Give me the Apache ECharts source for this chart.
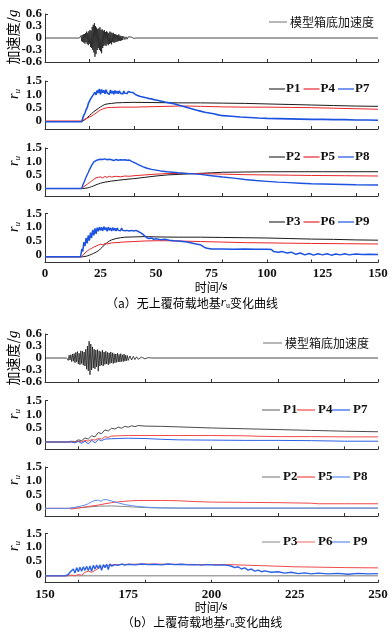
<!DOCTYPE html>
<html><head><meta charset="utf-8">
<script src="https://cdn.jsdelivr.net/npm/echarts@6/dist/echarts.min.js"></script>
<style>html,body{margin:0;padding:0;background:#fff}#c{width:392px;height:636px}</style>
</head><body><div id="c"></div>
<script>
// ---- tick / label values ----
const xTicksA = [20,40,60,80,100,120,140,150];
const xLabelsA = [0,25,50,75,100,125,150];
const xTicksB = [160,180,200,220,240,250];
const xLabelsB = [150,175,200,225,250];
const ruLabels = [0,0.5,1,1.5];
const accLabelsMain = [-0.6,0,0.6];
const accLabelsMid = [-0.3,0.3];

// ---- (a) base acceleration [t, g] ----
const accA = [[0,0],[15.5,0],[15.75,0.04],[16,-0.05],[16.25,0.06],[16.5,-0.08],[16.75,0.07],[17,-0.1],[17.25,0.09],[17.5,-0.12],[17.75,0.1],[18,-0.14],[18.25,0.12],[18.5,-0.1],[18.75,0.16],[19,-0.15],[19.25,0.13],[19.5,-0.18],[19.75,0.17],[20,-0.14],[20.25,0.2],[20.5,-0.22],[20.75,0.18],[21,-0.25],[21.25,0.28],[21.5,-0.3],[21.75,0.33],[22,-0.36],[22.25,0.37],[22.5,-0.47],[22.75,0.3],[23,-0.4],[23.25,0.26],[23.5,-0.3],[23.75,0.22],[24,-0.25],[24.25,0.24],[24.5,-0.3],[24.75,0.27],[25,-0.33],[25.25,0.2],[25.5,-0.38],[25.75,0.22],[26,-0.25],[26.25,0.18],[26.5,-0.2],[26.75,0.2],[27,-0.17],[27.25,0.15],[27.5,-0.2],[27.75,0.17],[28,-0.15],[28.25,0.14],[28.5,-0.18],[28.75,0.12],[29,-0.15],[29.25,0.16],[29.5,-0.13],[29.75,0.14],[30,-0.16],[30.25,0.12],[30.5,-0.1],[30.75,0.13],[31,-0.12],[31.25,0.1],[31.5,-0.11],[31.75,0.09],[32,-0.1],[32.25,0.08],[32.5,-0.09],[32.75,0.07],[33,-0.08],[33.25,0.09],[33.5,-0.07],[33.75,0.06],[34,-0.07],[34.25,0.05],[34.5,-0.06],[34.75,0.05],[35,-0.05],[35.5,0.04],[36,-0.04],[36.5,0.03],[37,-0.03],[37.5,0.03],[38,-0.02],[39,0.02],[40,-0.01],[41,0],[150,0]];

// ---- (a) r_u series [t, ru] ----
const aP1 = [[0,-0.02],[16.5,-0.02],[18,0.05],[19,0.12],[20,0.2],[21,0.28],[22,0.35],[23,0.41],[24,0.47],[25,0.53],[26,0.58],[27,0.62],[28,0.64],[30,0.66],[32,0.68],[35,0.69],[40,0.7],[50,0.69],[60,0.68],[70,0.68],[80,0.67],[90,0.66],[100,0.64],[110,0.62],[120,0.6],[130,0.58],[140,0.56],[150,0.55]];
const aP4 = [[0,0],[16.5,0],[17,0.03],[18,0.07],[19,0.1],[20,0.15],[21,0.19],[22,0.24],[23,0.3],[24,0.36],[25,0.41],[26,0.45],[27,0.48],[28,0.5],[30,0.51],[35,0.52],[40,0.52],[50,0.54],[60,0.56],[65,0.56],[70,0.55],[80,0.53],[90,0.52],[100,0.52],[110,0.51],[120,0.5],[130,0.48],[140,0.46],[150,0.44]];
const aP7 = [[0,-0.03],[16.5,-0.03],[17,0.1],[17.5,0.22],[18,0.3],[18.5,0.42],[19,0.5],[19.5,0.65],[20,0.7],[20.5,0.82],[21,0.78],[21.5,0.95],[22,0.9],[22.5,1.08],[23,0.98],[23.5,1.15],[24,1.05],[24.5,1.2],[25,1.0],[25.5,1.18],[26,1.06],[26.5,1.15],[27,1.02],[27.5,1.17],[28,1.05],[28.5,1.12],[29,1.0],[29.5,1.16],[30,1.04],[30.5,1.12],[31,1.0],[31.5,1.14],[32,1.03],[32.5,1.12],[33,1.02],[33.5,1.13],[34,1.04],[34.5,1.1],[35,1.01],[35.5,1.12],[36,1.04],[36.5,1.1],[37,1.03],[37.5,1.11],[38,1.05],[38.5,1.08],[39,1.02],[39.5,1.07],[40,1.0],[41,0.98],[42,0.95],[43,0.92],[44,0.9],[45,0.88],[46,0.86],[47,0.84],[48,0.83],[49,0.8],[50,0.79],[52,0.75],[54,0.71],[56,0.68],[58,0.65],[60,0.6],[62,0.55],[64,0.51],[66,0.46],[68,0.41],[70,0.37],[72,0.33],[74,0.3],[76,0.27],[78,0.23],[80,0.2],[84,0.18],[88,0.15],[92,0.13],[96,0.11],[100,0.1],[105,0.09],[110,0.08],[115,0.07],[120,0.06],[125,0.06],[130,0.05],[135,0.05],[140,0.04],[145,0.04],[150,0.03]];
const aP2 = [[0,-0.02],[17,-0.02],[18,-0.01],[19,0],[20,0.02],[21,0.05],[22,0.08],[23,0.12],[24,0.15],[25,0.18],[27,0.22],[30,0.26],[33,0.29],[36,0.32],[40,0.35],[45,0.4],[50,0.45],[55,0.49],[60,0.51],[65,0.53],[70,0.55],[75,0.57],[80,0.59],[90,0.6],[100,0.61],[125,0.61],[150,0.61]];
const aP5 = [[0,-0.02],[16.5,-0.02],[17,0.02],[18,0.08],[19,0.14],[20,0.2],[21,0.26],[22,0.33],[23,0.38],[24,0.4],[25,0.42],[26,0.38],[27,0.43],[28,0.4],[29,0.44],[30,0.41],[32,0.44],[34,0.42],[36,0.45],[38,0.44],[40,0.46],[45,0.49],[50,0.52],[55,0.54],[60,0.55],[70,0.54],[80,0.52],[90,0.5],[100,0.49],[110,0.48],[120,0.47],[135,0.46],[150,0.45]];
const aP8 = [[0,-0.02],[16.5,-0.02],[17,0.1],[17.5,0.2],[18,0.3],[18.5,0.4],[19,0.5],[19.5,0.58],[20,0.68],[20.5,0.75],[21,0.85],[21.5,0.9],[22,0.98],[22.5,0.95],[23,1.03],[23.5,0.98],[24,1.06],[24.5,1.0],[25,1.08],[25.5,1.02],[26,1.07],[26.5,1.01],[27,1.09],[27.5,1.03],[28,1.06],[28.5,1.02],[29,1.08],[29.5,1.03],[30,1.06],[31,1.03],[32,1.07],[33,1.04],[34,1.06],[35,1.05],[36,1.06],[37,1.04],[38,1.05],[39,1.0],[40,0.96],[41,0.92],[42,0.88],[43,0.84],[44,0.8],[45,0.77],[46,0.74],[48,0.7],[50,0.67],[52,0.64],[55,0.61],[60,0.57],[65,0.54],[70,0.51],[75,0.46],[80,0.41],[85,0.37],[90,0.32],[95,0.28],[100,0.25],[105,0.22],[110,0.2],[115,0.18],[120,0.16],[130,0.14],[140,0.12],[150,0.11]];
const aP3 = [[0,-0.09],[17,-0.09],[18,-0.08],[19,-0.06],[20,-0.03],[21,0],[22,0.04],[23,0.08],[24,0.13],[25,0.2],[26,0.28],[27,0.36],[28,0.43],[29,0.49],[30,0.53],[32,0.58],[34,0.61],[36,0.63],[40,0.64],[45,0.65],[50,0.64],[60,0.63],[70,0.63],[80,0.62],[90,0.61],[100,0.6],[110,0.58],[120,0.56],[130,0.55],[140,0.53],[150,0.52]];
const aP6 = [[0,-0.09],[16.5,-0.09],[17,-0.03],[18,0.05],[19,0.12],[20,0.18],[21,0.22],[22,0.27],[23,0.3],[24,0.34],[25,0.37],[26,0.35],[27,0.4],[28,0.38],[30,0.42],[32,0.43],[35,0.45],[40,0.47],[45,0.49],[50,0.5],[55,0.5],[60,0.49],[70,0.47],[80,0.45],[90,0.43],[100,0.42],[110,0.41],[120,0.4],[135,0.39],[150,0.38]];
const aP9 = [[0,-0.09],[16,-0.09],[16.3,-0.15],[16.6,0.2],[17,0.1],[17.5,0.45],[18,0.3],[18.5,0.6],[19,0.4],[19.5,0.7],[20,0.5],[20.5,0.8],[21,0.6],[21.5,0.9],[22,0.7],[22.5,0.95],[23,0.75],[23.5,0.98],[24,0.85],[24.5,1.0],[25,0.88],[25.5,0.99],[26,0.86],[26.5,1.02],[27,0.9],[27.5,0.98],[28,0.85],[28.5,1.0],[29,0.88],[29.5,0.97],[30,0.86],[30.5,0.98],[31,0.88],[31.5,0.96],[32,0.86],[32.5,0.97],[33,0.88],[33.5,0.95],[34,0.87],[34.5,0.96],[35,0.88],[35.5,0.95],[36,0.87],[36.5,0.94],[37,0.88],[37.5,0.93],[38,0.86],[38.5,0.92],[39,0.88],[39.5,0.91],[40,0.86],[41,0.88],[42,0.84],[43,0.8],[44,0.74],[45,0.67],[46,0.6],[47,0.58],[48,0.6],[49,0.55],[50,0.57],[52,0.54],[54,0.55],[56,0.52],[58,0.5],[60,0.49],[62,0.47],[64,0.45],[66,0.42],[68,0.38],[70,0.35],[71,0.3],[72,0.25],[73,0.22],[75,0.2],[80,0.2],[85,0.19],[90,0.2],[95,0.19],[100,0.19],[102,0.18],[103,0.1],[105,0.08],[107,0.1],[109,0.05],[111,0.08],[113,0.0],[115,0.05],[117,-0.02],[119,0.03],[121,-0.03],[123,0.02],[125,-0.02],[127,0.02],[129,-0.03],[131,0.01],[133,-0.02],[135,0.02],[137,-0.02],[140,0.01],[143,-0.01],[146,0.0],[150,-0.01]];

// ---- (b) base acceleration [t, g] ----
const accB = [[150,0],[156.5,0],[156.75,0.05],[157,-0.06],[157.25,0.07],[157.5,-0.05],[157.75,0.08],[158,-0.09],[158.25,0.1],[158.5,-0.08],[158.75,0.11],[159,-0.12],[159.25,0.14],[159.5,-0.1],[159.75,0.16],[160,-0.15],[160.25,0.12],[160.5,-0.17],[160.75,0.18],[161,-0.14],[161.25,0.17],[161.5,-0.18],[161.75,0.15],[162,-0.2],[162.25,0.22],[162.5,-0.28],[162.75,0.3],[163,-0.32],[163.25,0.42],[163.5,-0.42],[163.75,0.35],[164,-0.3],[164.25,0.28],[164.5,-0.25],[164.75,0.22],[165,-0.27],[165.25,0.2],[165.5,-0.22],[165.75,0.21],[166,-0.33],[166.25,0.18],[166.5,-0.2],[166.75,0.16],[167,-0.18],[167.25,0.2],[167.5,-0.2],[167.75,0.15],[168,-0.16],[168.25,0.17],[168.5,-0.15],[168.75,0.14],[169,-0.17],[169.25,0.13],[169.5,-0.14],[169.75,0.15],[170,-0.12],[170.25,0.13],[170.5,-0.14],[170.75,0.11],[171,-0.12],[171.25,0.1],[171.5,-0.11],[171.75,0.12],[172,-0.1],[172.25,0.09],[172.5,-0.1],[172.75,0.11],[173,-0.09],[173.25,0.08],[173.5,-0.09],[173.75,0.1],[174,-0.08],[174.25,0.07],[174.5,-0.07],[174.75,0.06],[175,-0.06],[175.5,0.05],[176,-0.05],[176.5,0.04],[177,-0.04],[177.5,0.03],[178,-0.03],[179,0.02],[180,-0.02],[181,0.01],[182,0],[250,0]];

// ---- (b) r_u series [t, ru] ----
const bP1 = [[150,-0.03],[157,-0.03],[158,0],[159,-0.02],[160,0.05],[161,0.02],[162,0.12],[163,0.08],[164,0.2],[165,0.16],[166,0.32],[167,0.28],[168,0.42],[169,0.38],[170,0.48],[171,0.45],[172,0.52],[173,0.48],[174,0.55],[175,0.52],[176,0.57],[177,0.54],[178,0.58],[180,0.56],[185,0.55],[190,0.53],[195,0.51],[200,0.49],[210,0.46],[220,0.43],[230,0.4],[240,0.37],[250,0.35]];
const bP4 = [[150,-0.03],[159,-0.03],[160,0],[161,-0.03],[162,0.03],[163,0.0],[164,0.06],[165,0.04],[166,0.1],[167,0.08],[168,0.17],[169,0.14],[170,0.19],[172,0.2],[175,0.21],[180,0.21],[190,0.21],[200,0.21],[210,0.2],[215,0.18],[220,0.17],[230,0.17],[240,0.16],[250,0.16]];
const bP7 = [[150,-0.03],[158,-0.03],[159,-0.06],[160,-0.01],[161,-0.08],[162,0.0],[163,-0.1],[164,0.03],[165,-0.06],[166,0.06],[167,0.02],[168,0.08],[170,0.09],[172,0.1],[175,0.11],[180,0.1],[185,0.07],[190,0.05],[200,0.04],[210,0.03],[220,0.03],[230,0.02],[240,0.0],[250,0.0]];
const bP2 = [[150,-0.02],[157,-0.02],[160,0.0],[163,0.03],[166,0.06],[170,0.07],[174,0.05],[178,0.02],[182,0.0],[190,-0.01],[250,-0.01]];
const bP5 = [[150,-0.02],[157,-0.02],[158,-0.04],[160,-0.01],[162,0.03],[164,0.07],[166,0.1],[168,0.15],[170,0.19],[172,0.22],[174,0.24],[176,0.26],[178,0.27],[185,0.27],[190,0.26],[195,0.23],[200,0.21],[210,0.2],[220,0.19],[230,0.17],[232,0.15],[240,0.15],[250,0.15]];
const bP8 = [[150,-0.02],[157,-0.02],[159,0.02],[161,0.07],[162,0.1],[163,0.15],[164,0.22],[165,0.27],[166,0.28],[166.8,0.24],[167.5,0.3],[168.5,0.3],[170,0.25],[172,0.18],[174,0.12],[176,0.08],[178,0.05],[181,0.02],[185,0.0],[190,-0.01],[250,-0.01]];
const bP3 = [[150,-0.05],[250,-0.05]];
const bP6 = [[150,-0.05],[157,-0.05],[158,-0.02],[159,-0.05],[160,0.0],[161,-0.03],[162,0.08],[163,0.12],[164,0.08],[165,0.15],[166,0.22],[167,0.28],[168,0.32],[170,0.35],[172,0.36],[175,0.37],[180,0.38],[190,0.37],[200,0.36],[205,0.36],[210,0.34],[215,0.32],[220,0.3],[225,0.28],[230,0.27],[240,0.25],[250,0.24]];
const bP9 = [[150,-0.05],[156,-0.05],[156.5,-0.12],[157,0.0],[157.5,0.08],[158,0.02],[158.5,0.2],[159,0.05],[159.5,0.25],[160,0.1],[160.5,0.26],[161,0.12],[161.5,0.28],[162,0.15],[162.5,0.3],[163,0.14],[163.5,0.31],[164,0.12],[164.5,0.33],[165,0.2],[165.5,0.34],[166,0.22],[166.5,0.35],[167,0.15],[167.5,0.36],[168,0.25],[168.5,0.37],[169,0.18],[169.5,0.38],[170,0.3],[171,0.36],[172,0.33],[173,0.38],[174,0.34],[175,0.37],[177,0.35],[179,0.38],[181,0.36],[183,0.37],[185,0.35],[187,0.38],[189,0.36],[191,0.37],[193,0.35],[195,0.36],[197,0.34],[199,0.36],[201,0.34],[203,0.35],[205,0.33],[206,0.3],[207,0.25],[208,0.28],[209,0.2],[210,0.24],[211,0.16],[212,0.2],[213,0.12],[214,0.16],[215,0.1],[216,0.13],[218,0.08],[220,0.1],[222,0.05],[224,0.08],[226,0.03],[228,0.06],[230,0.02],[232,0.05],[235,0.02],[238,0.04],[241,0.01],[244,0.04],[247,0.02],[250,0.03]];

// ---- layout ----
const SERIF = 'Liberation Serif';
const CJK = 'Noto Sans CJK SC';
const panels = [
  {top:14, h:48, acc:true, chart:'a'},
  {top:81, h:48, chart:'a'},
  {top:148, h:48, chart:'a'},
  {top:213.5, h:49, chart:'a', last:true},
  {top:334, h:48, acc:true, chart:'b'},
  {top:400.7, h:48.6, chart:'b'},
  {top:467, h:49, chart:'b'},
  {top:533.3, h:49.4, chart:'b', last:true}
];
const AX = '#333';
const LBL = {color:'#111', fontFamily:SERIF, fontWeight:'bold', fontSize:13};
const fmt = v => (v===1?'1.0':v===0.5?'0.5':v===1.5?'1.5':v===0?'0':String(v));
const grid = [], xAxis = [], yAxis = [];
panels.forEach((p,i)=>{
  grid.push({left:45, right:14, top:p.top, height:p.h});
  const isA = p.chart==='a';
  xAxis.push({type:'value', gridIndex:i, min:isA?0:150, max:isA?150:250,
    axisLine:{show:true, onZero:false, lineStyle:{color:AX, width:1}},
    axisTick:{show:true, inside:true, length:3, lineStyle:{color:AX}, customValues: isA?xTicksA:xTicksB},
    axisLabel:Object.assign({show:!!p.last, customValues: isA?xLabelsA:xLabelsB, showMinLabel:true, showMaxLabel:true, hideOverlap:false, margin:5}, LBL),
    splitLine:{show:false}});
  yAxis.push({type:'value', gridIndex:i, min:p.acc?-0.6:-0.3, max:p.acc?0.6:1.5,
    axisLine:{show:true, onZero:false, lineStyle:{color:AX, width:1}},
    axisTick:{show:true, inside:true, length:3, lineStyle:{color:AX}, customValues: p.acc?[0.6]:[1.5]},
    axisLabel:Object.assign({customValues: p.acc?accLabelsMain:ruLabels, showMinLabel:true, showMaxLabel:true, hideOverlap:false, margin:3, formatter: fmt}, LBL),
    splitLine:{show:false}});
});
// second label-only axis for the ±0.3 acceleration labels
[0,4].forEach(i=>{
  yAxis.push({type:'value', gridIndex:i, min:-0.6, max:0.6, position:'left',
    axisLine:{show:false}, axisTick:{show:false}, splitLine:{show:false},
    axisLabel:Object.assign({customValues: accLabelsMid, showMinLabel:true, showMaxLabel:true, margin:3, formatter: fmt}, LBL)});
});

const BLK='#1a1a1a', RED='#e8262a', BLU='#1c52e0';
const BLKb='#4a4a4a', REDb='#f04a4a', BLUb='#2a62e6', BLUl='#5a8ef0';
function ln(name, data, idx, color, w){
  return {name, type:'line', data, xAxisIndex:idx, yAxisIndex:idx, symbol:'none', showSymbol:false,
    lineStyle:{color, width:w}, itemStyle:{color}, animation:false, z: 2};
}
const series = [
  ln('模型箱底加速度', accA, 0, BLK, 0.8),
  ln('P1', aP1, 1, BLK, 1), ln('P4', aP4, 1, RED, 1), ln('P7', aP7, 1, BLU, 1.6),
  ln('P2', aP2, 2, BLK, 1), ln('P5', aP5, 2, RED, 1), ln('P8', aP8, 2, BLU, 1.4),
  ln('P3', aP3, 3, BLK, 1), ln('P6', aP6, 3, RED, 1), ln('P9', aP9, 3, BLU, 1.5),
  ln('模型箱底加速度', accB, 4, BLK, 0.8),
  ln('P1', bP1, 5, BLKb, 1), ln('P4', bP4, 5, REDb, 1), ln('P7', bP7, 5, BLUb, 1),
  ln('P2', bP2, 6, '#888', 1), ln('P5', bP5, 6, REDb, 1), ln('P8', bP8, 6, BLUl, 1),
  ln('P3', bP3, 7, '#777', 1), ln('P6', bP6, 7, REDb, 1), ln('P9', bP9, 7, BLUb, 1.4)
];

// legends drawn as line + text
function gLegend(x0, y, pitch, lineLen, textOff, items, cjk){
  const out = [];
  items.forEach((it,k)=>{
    const x = x0 + k*pitch;
    out.push({type:'rect', shape:{x:x, y:y-0.6, width:lineLen, height:1.2}, style:{fill:it[1], stroke:null}, z:10});
    out.push({type:'text', x:x+textOff, y, z:10, style:{text:it[0], fill:'#111', verticalAlign:'middle', align:'left',
      fontFamily: cjk?CJK:SERIF, fontWeight: cjk?'normal':'bold', fontSize: cjk?12:13}});
  });
  return out;
}

const ruRich = {r:{fontFamily:SERIF, fontStyle:'italic', fontSize:14, color:'#111'}, u:{fontFamily:SERIF, fontStyle:'italic', fontSize:9, color:'#111', padding:[7,0,0,0]}};
function ruName(y){ return {type:'text', x:14, y, rotation:Math.PI/2, style:{text:'{r|r}{u|u}', rich:ruRich, align:'center', verticalAlign:'middle'}}; }
function accName(y){ return {type:'text', x:13, y, rotation:Math.PI/2, style:{text:'{c|加速度/}{g|g}', align:'center', verticalAlign:'middle',
  rich:{c:{fontFamily:CJK, fontSize:14, color:'#111'}, g:{fontFamily:SERIF, fontStyle:'italic', fontSize:15, color:'#111'}}}}; }
function timeName(y){ return {type:'text', x:211, y, style:{text:'{c|时间}{s|/s}', align:'center', verticalAlign:'middle',
  rich:{c:{fontFamily:CJK, fontSize:12, color:'#111'}, s:{fontFamily:SERIF, fontWeight:'bold', fontSize:13, color:'#111'}}}}; }
function caption(x, y, head, tail){ return {type:'text', x, y, style:{text:'{c|'+head+'}{r|r}{u|u}{c|'+tail+'}', align:'center', verticalAlign:'middle',
  rich:{c:{fontFamily:CJK, fontSize:12, color:'#111'}, r:{fontFamily:SERIF, fontStyle:'italic', fontSize:13, color:'#111'}, u:{fontFamily:SERIF, fontSize:8, color:'#111', padding:[6,0,0,0]}}}}; }

const graphic = [
  accName(37), ruName(94), ruName(161), ruName(227),
  accName(358), ruName(414), ruName(480), ruName(546),
  timeName(287), caption(192, 303, '（a）无上覆荷载地基', '变化曲线'),
  timeName(607), caption(202, 622, '（b）上覆荷载地基', '变化曲线'),
  ...gLegend(269, 22, 0, 18, 21, [['模型箱底加速度','#888']], true),
  ...gLegend(269, 89, 34.5, 16, 17, [['P1','#333'],['P4',RED],['P7',BLU]]),
  ...gLegend(269, 157, 34.5, 16, 17, [['P2','#333'],['P5',RED],['P8',BLU]]),
  ...gLegend(269, 222, 34.5, 16, 17, [['P3','#333'],['P6',RED],['P9',BLU]]),
  ...gLegend(263, 343, 0, 19, 22, [['模型箱底加速度','#888']], true),
  ...gLegend(262, 410, 35, 18, 21, [['P1','#777'],['P4',REDb],['P7',BLUb]]),
  ...gLegend(262, 477, 35, 18, 21, [['P2','#888'],['P5',REDb],['P8',BLUl]]),
  ...gLegend(262, 542, 35, 18, 21, [['P3','#999'],['P6','#f08080'],['P9',BLUl]])
];

const chart = echarts.init(document.getElementById('c'), null, {renderer:'canvas'});
chart.setOption({animation:false, backgroundColor:'#fff', grid, xAxis, yAxis, series, graphic});
</script></body></html>
